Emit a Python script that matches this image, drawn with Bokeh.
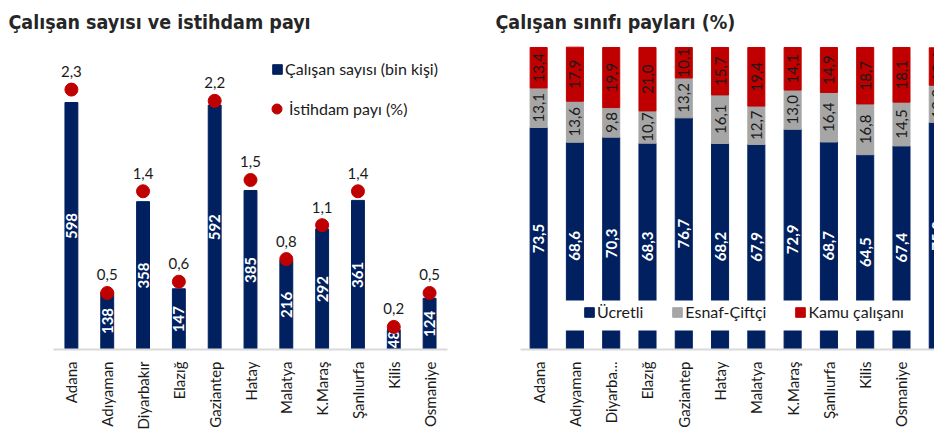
import math
import numpy as np
from bokeh.plotting import figure
from bokeh.layouts import row
from bokeh.models import (ColumnDataSource, Range1d, Legend, LegendItem,
                          FixedTicker, BoxAnnotation)
from bokeh.core.properties import value
from bokeh.embed import file_html
from bokeh.resources import INLINE

# ---------------- data ----------------
provinces = ["Adana", "Adıyaman", "Diyarbakır", "Elazığ", "Gaziantep", "Hatay",
             "Malatya", "K.Maraş", "Şanlıurfa", "Kilis", "Osmaniye"]
employees = [598, 138, 358, 147, 592, 385, 216, 292, 361, 48, 124]
emp_share = [2.3, 0.5, 1.4, 0.6, 2.2, 1.5, 0.8, 1.1, 1.4, 0.2, 0.5]

regions = ["Adana", "Adıyaman", "Diyarba...", "Elazığ", "Gaziantep", "Hatay",
           "Malatya", "K.Maraş", "Şanlıurfa", "Kilis", "Osmaniye", "Türkiye"]
ucretli = [73.5, 68.6, 70.3, 68.3, 76.7, 68.2, 67.9, 72.9, 68.7, 64.5, 67.4, 75.2]
esnaf = [13.1, 13.6, 9.8, 10.7, 13.2, 16.1, 12.7, 13.0, 16.4, 16.8, 14.5, 12.3]
kamu = [13.4, 17.9, 19.9, 21.0, 10.1, 15.7, 19.4, 14.1, 14.9, 18.7, 18.1, 12.4]

NAVY = "#002060"
RED = "#C00000"
GREY = "#A6A6A6"
TXT = "#1a1a1a"
FONT = "Lato"
TFONT = "DejaVu Sans Condensed"


def fmt(v):
    return f"{v:.1f}".replace(".", ",")


H = 433

# ---------------- left chart ----------------
lsrc = ColumnDataSource(dict(
    prov=provinces,
    emp=employees,
    emp_mid=[v / 2 for v in employees],
    emp_lbl=[str(v) for v in employees],
    share=emp_share,
    share_lbl=[fmt(v) for v in emp_share],
))

p1 = figure(x_range=provinces, y_range=Range1d(0, 750.6), width=478, height=H,
            output_backend="svg", toolbar_location=None,
            min_border_left=53, min_border_right=31, min_border_top=39,
            min_border_bottom=84, title="Çalışan sayısı ve istihdam payı")
p1.extra_y_ranges = {"pct": Range1d(0, 2.743)}
p1.outline_line_color = None
p1.grid.visible = False
p1.yaxis.visible = False
p1.x_range.range_padding = 0

bars = p1.vbar(x="prov", top="emp", width=0.36, source=lsrc, color=NAVY)
p1.text(x="prov", y="emp_mid", text="emp_lbl", source=lsrc, angle=math.pi / 2,
        text_align="center", text_baseline="middle", text_color="white",
        text_font=value(FONT), text_font_style="bold", text_font_size="15px")
dots = p1.scatter(x="prov", y="share", y_range_name="pct", source=lsrc,
                  size=13, color=RED)
p1.text(x="prov", y="share", y_range_name="pct", text="share_lbl", source=lsrc,
        y_offset=-18, text_align="center", text_baseline="alphabetic",
        text_color=TXT, text_font=value(FONT), text_font_size="15px")

lg1 = Legend(items=[LegendItem(label="Çalışan sayısı (bin kişi)", renderers=[bars])],
             location=(218, 271), glyph_width=12, glyph_height=12,
             label_height=12, label_standoff=2, padding=0, margin=0,
             background_fill_alpha=0, border_line_color=None,
             label_text_font=FONT, label_text_font_size="16px",
             label_text_color=TXT)
lg2 = Legend(items=[LegendItem(label="İstihdam payı (%)", renderers=[dots])],
             location=(211, 228), glyph_width=25, glyph_height=25,
             label_height=25, label_standoff=-1, padding=0, margin=0,
             background_fill_alpha=0, border_line_color=None,
             label_text_font=FONT, label_text_font_size="16px",
             label_text_color=TXT)
p1.add_layout(lg1)
p1.add_layout(lg2)

# ---------------- right chart ----------------
xs = np.arange(len(regions))
u = np.array(ucretli)
e = np.array(esnaf)
k = np.array(kamu)
rsrc = ColumnDataSource(dict(
    x=xs, u=u, e_bot=u, e_top=u + e, k_bot=u + e, k_top=u + e + k,
    u_mid=u / 2, e_mid=u + e / 2, k_mid=u + e + k / 2,
    u_lbl=[fmt(v) for v in u], e_lbl=[fmt(v) for v in e], k_lbl=[fmt(v) for v in k],
))

p2 = figure(x_range=Range1d(-0.5, 10.91), y_range=Range1d(0, 102.64),
            width=456, height=H, output_backend="svg", toolbar_location=None,
            min_border_left=42, min_border_right=0, min_border_top=39,
            min_border_bottom=83, title="Çalışan sınıfı payları (%)")
p2.outline_line_color = None
p2.grid.visible = False
p2.yaxis.visible = False

ru = p2.vbar(x="x", bottom=0, top="u", width=0.47, source=rsrc, color=NAVY)
re_ = p2.vbar(x="x", bottom="e_bot", top="e_top", width=0.47, source=rsrc, color=GREY)
rk = p2.vbar(x="x", bottom="k_bot", top="k_top", width=0.47, source=rsrc, color=RED)
p2.text(x="x", y="u_mid", text="u_lbl", source=rsrc, angle=math.pi / 2,
        text_align="center", text_baseline="middle", text_color="white",
        text_font=value(FONT), text_font_style="bold", text_font_size="15px")
p2.text(x="x", y="e_mid", text="e_lbl", source=rsrc, angle=math.pi / 2,
        text_align="center", text_baseline="middle", text_color=TXT,
        text_font=value(FONT), text_font_size="15px")
p2.text(x="x", y="k_mid", text="k_lbl", source=rsrc, angle=math.pi / 2,
        text_align="center", text_baseline="middle", text_color=TXT,
        text_font=value(FONT), text_font_size="15px")

# white band behind the legend
p2.add_layout(BoxAnnotation(left=0.5, right=10.5, bottom=6.27, top=16.2,
                            fill_color="white", fill_alpha=1, line_color=None))
lg3 = Legend(items=[LegendItem(label="Ücretli", renderers=[ru]),
                    LegendItem(label="Esnaf-Çiftçi", renderers=[re_]),
                    LegendItem(label="Kamu çalışanı", renderers=[rk])],
             orientation="horizontal", location=(63, 28),
             glyph_width=12, glyph_height=12, label_height=12, label_standoff=2,
             spacing=28, padding=0, margin=0,
             background_fill_alpha=0, border_line_color=None,
             label_text_font=FONT, label_text_font_size="16px",
             label_text_color=TXT)
p2.add_layout(lg3)

p2.xaxis.ticker = FixedTicker(ticks=list(range(len(regions))))
p2.xaxis.major_label_overrides = {i: r for i, r in enumerate(regions)}

# ---------------- common styling ----------------
for p, off in ((p1, -45), (p2, -25)):
    p.title.text_font = TFONT
    p.title.text_font_style = "bold"
    p.title.text_font_size = "19.5px"
    p.title.text_color = "#262626"
    p.title.offset = off
    p.title.standoff = 12
    ax = p.xaxis[0]
    ax.axis_line_color = "#D9D9D9"
    ax.axis_line_width = 2
    ax.major_tick_line_color = None
    ax.minor_tick_line_color = None
    ax.major_tick_out = 0
    ax.major_tick_in = 0
    ax.major_label_orientation = math.pi / 2
    ax.major_label_standoff = 12
    ax.major_label_text_font = FONT
    ax.major_label_text_font_size = "15px"
    ax.major_label_text_color = TXT

layout = row(p1, p2)
open("out.html", "w").write(file_html(layout, INLINE))
